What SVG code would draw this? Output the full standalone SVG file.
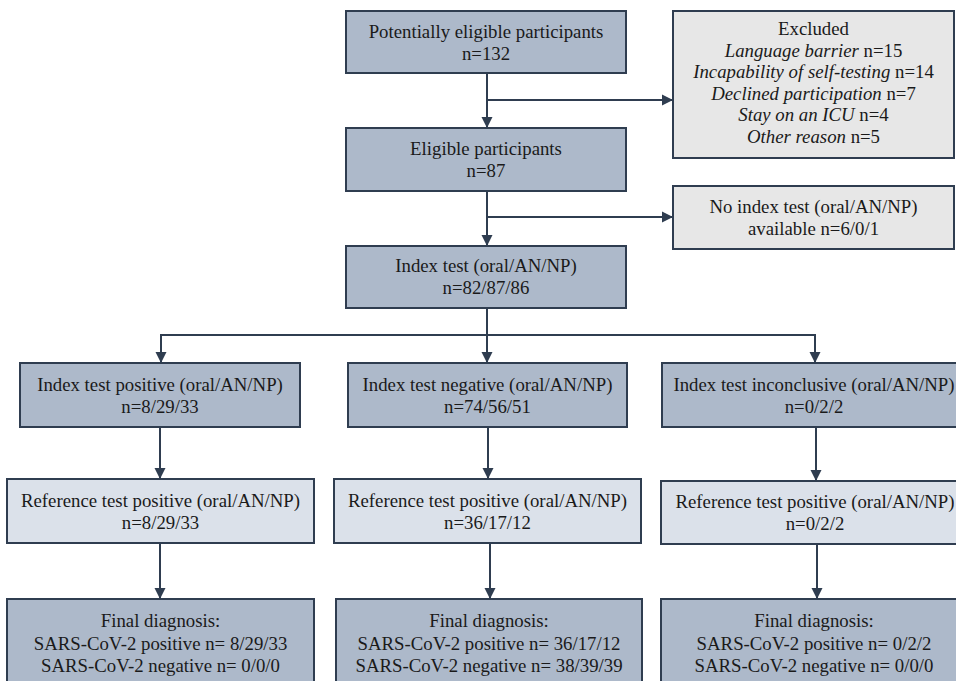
<svg xmlns="http://www.w3.org/2000/svg" width="956" height="681" viewBox="0 0 956 681">
<defs>
<style>
.dark{fill:#adb9ca;stroke:#2f3d50;stroke-width:2}
.light{fill:#dbe1ea;stroke:#2f3d50;stroke-width:2}
.gray{fill:#e7e7e7;stroke:#2f3d50;stroke-width:2}
text{font-family:"Liberation Serif","Times New Roman",serif;font-size:18.8px;fill:#1a1a1a;text-anchor:middle}
.i{font-style:italic}
.c{fill:none;stroke:#2f3d50;stroke-width:2}
</style>
<marker id="ah" markerUnits="userSpaceOnUse" markerWidth="12" markerHeight="12" viewBox="0 0 12 12" refX="11" refY="6" orient="auto">
<path d="M0,0.5 L11,6 L0,11.5 Z" fill="#2f3d50"/>
</marker>
</defs>
<rect width="956" height="681" fill="#ffffff"/>
<g id="connectors">
<line class="c" x1="487" y1="73" x2="487" y2="128" marker-end="url(#ah)"/>
<line class="c" x1="487" y1="100" x2="673" y2="100" marker-end="url(#ah)"/>
<line class="c" x1="487" y1="191" x2="487" y2="246" marker-end="url(#ah)"/>
<line class="c" x1="487" y1="217" x2="673" y2="217" marker-end="url(#ah)"/>
<line class="c" x1="487" y1="308" x2="487" y2="363" marker-end="url(#ah)"/>
<polyline class="c" points="161,363 161,335 815,335 815,363"/>
<line class="c" x1="161" y1="335" x2="161" y2="363" marker-end="url(#ah)"/>
<line class="c" x1="815" y1="335" x2="815" y2="363" marker-end="url(#ah)"/>
<line class="c" x1="160" y1="427" x2="160" y2="479" marker-end="url(#ah)"/>
<line class="c" x1="488" y1="427" x2="488" y2="479" marker-end="url(#ah)"/>
<line class="c" x1="816" y1="427" x2="816" y2="481" marker-end="url(#ah)"/>
<line class="c" x1="160" y1="543" x2="160" y2="599" marker-end="url(#ah)"/>
<line class="c" x1="490" y1="543" x2="490" y2="599" marker-end="url(#ah)"/>
<line class="c" x1="817" y1="544" x2="817" y2="599" marker-end="url(#ah)"/>
</g>
<g id="potentially-eligible">
<rect class="dark" x="346" y="11" width="280" height="62"/>
<text x="486" y="37.5">Potentially eligible participants</text>
<text x="486" y="60">n=132</text>
</g>
<g id="excluded">
<rect class="gray" x="673" y="11" width="281" height="147"/>
<text x="813.5" y="35">Excluded</text>
<text x="813.5" y="56.5"><tspan class="i">Language barrier</tspan> n=15</text>
<text x="813.5" y="78.2"><tspan class="i">Incapability of self-testing</tspan> n=14</text>
<text x="813.5" y="99.8"><tspan class="i">Declined participation</tspan> n=7</text>
<text x="813.5" y="121.4"><tspan class="i">Stay on an ICU</tspan> n=4</text>
<text x="813.5" y="143"><tspan class="i">Other reason</tspan> n=5</text>
</g>
<g id="eligible">
<rect class="dark" x="346" y="128" width="280" height="63"/>
<text x="486" y="155">Eligible participants</text>
<text x="486" y="177">n=87</text>
</g>
<g id="no-index-test">
<rect class="gray" x="673" y="186" width="281" height="63"/>
<text x="813.5" y="213">No index test (oral/AN/NP)</text>
<text x="813.5" y="235">available n=6/0/1</text>
</g>
<g id="index-test">
<rect class="dark" x="346" y="246" width="280" height="62"/>
<text x="486" y="272">Index test (oral/AN/NP)</text>
<text x="486" y="294">n=82/87/86</text>
</g>
<g id="index-positive">
<rect class="dark" x="20" y="363" width="280" height="64"/>
<text x="160" y="390.5">Index test positive (oral/AN/NP)</text>
<text x="160" y="412.5">n=8/29/33</text>
</g>
<g id="index-negative">
<rect class="dark" x="348" y="363" width="279" height="64"/>
<text x="487.5" y="390.5">Index test negative (oral/AN/NP)</text>
<text x="487.5" y="412.5">n=74/56/51</text>
</g>
<g id="index-inconclusive">
<rect class="dark" x="662" y="363" width="306" height="64"/>
<text x="814" y="390.5">Index test inconclusive (oral/AN/NP)</text>
<text x="814" y="412.5">n=0/2/2</text>
</g>
<g id="reference-left">
<rect class="light" x="7" y="479" width="307" height="64"/>
<text x="160.5" y="506.5">Reference test positive (oral/AN/NP)</text>
<text x="160.5" y="528.5">n=8/29/33</text>
</g>
<g id="reference-middle">
<rect class="light" x="334" y="479" width="307" height="64"/>
<text x="487.5" y="506.5">Reference test positive (oral/AN/NP)</text>
<text x="487.5" y="528.5">n=36/17/12</text>
</g>
<g id="reference-right">
<rect class="light" x="661" y="481" width="308" height="63"/>
<text x="815" y="507.5">Reference test positive (oral/AN/NP)</text>
<text x="815" y="529.5">n=0/2/2</text>
</g>
<g id="final-left">
<rect class="dark" x="7" y="599" width="307" height="90"/>
<text x="160.5" y="627">Final diagnosis:</text>
<text x="160.5" y="649.5">SARS-CoV-2 positive n= 8/29/33</text>
<text x="160.5" y="672">SARS-CoV-2 negative n= 0/0/0</text>
</g>
<g id="final-middle">
<rect class="dark" x="336" y="599" width="306" height="90"/>
<text x="489" y="627">Final diagnosis:</text>
<text x="489" y="649.5">SARS-CoV-2 positive n= 36/17/12</text>
<text x="489" y="672">SARS-CoV-2 negative n= 38/39/39</text>
</g>
<g id="final-right">
<rect class="dark" x="661" y="599" width="308" height="90"/>
<text x="814" y="627">Final diagnosis:</text>
<text x="814" y="649.5">SARS-CoV-2 positive n= 0/2/2</text>
<text x="814" y="672">SARS-CoV-2 negative n= 0/0/0</text>
</g>
</svg>
